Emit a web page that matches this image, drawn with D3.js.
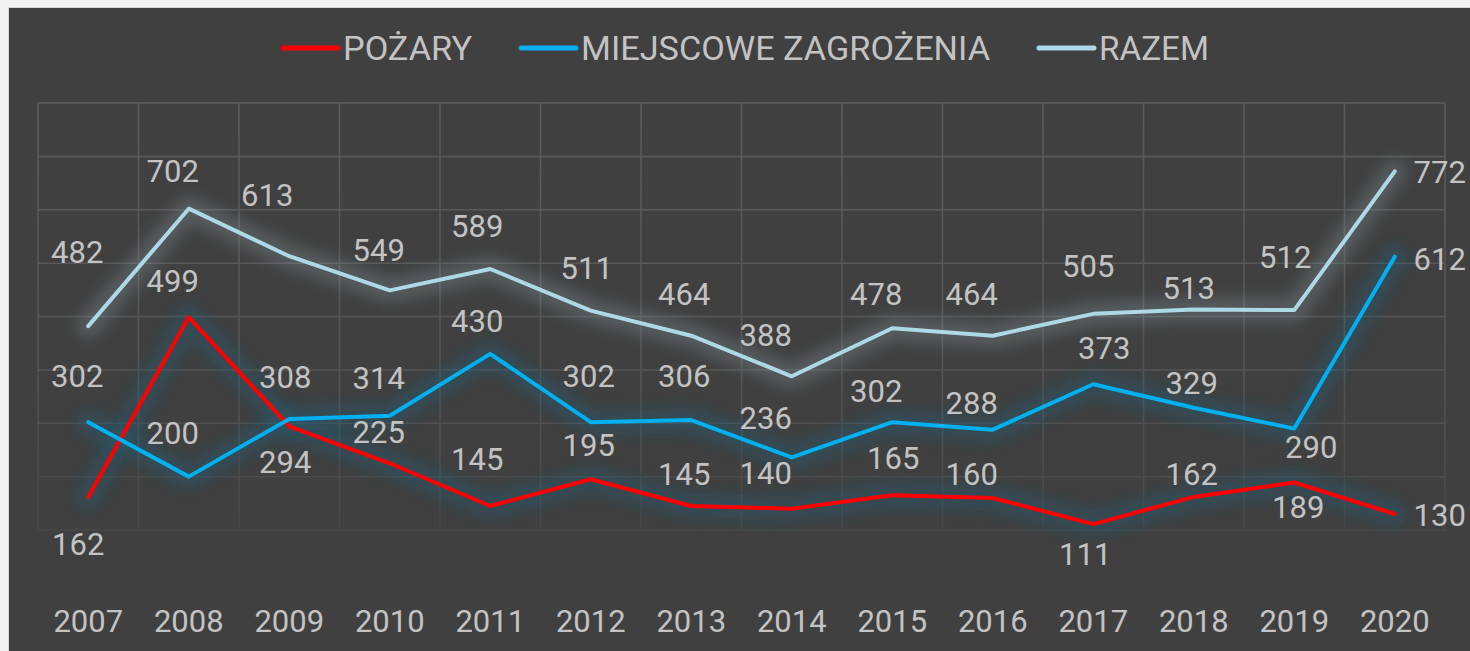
<!DOCTYPE html>
<html>
<head>
<meta charset="utf-8">
<script src="https://cdn.jsdelivr.net/npm/d3@7"></script>
<style>
  html, body { margin: 0; padding: 0; background: #f2f2f2; }
  svg { display: block; }
  text { font-family: Roboto, "Noto Sans", sans-serif; fill: #c3c3c3; }
</style>
</head>
<body>
<svg></svg>
<script>
const years = ['2007','2008','2009','2010','2011','2012','2013','2014','2015','2016','2017','2018','2019','2020'];
const pozary = [162, 499, 294, 225, 145, 195, 145, 140, 165, 160, 111, 162, 189, 130];
const miejscowe = [302, 200, 308, 314, 430, 302, 306, 236, 302, 288, 373, 329, 290, 612];
const razem = [482, 702, 613, 549, 589, 511, 464, 388, 478, 464, 505, 513, 512, 772];
const seriesNames = ['POŻARY', 'MIEJSCOWE ZAGROŻENIA', 'RAZEM'];
const yTicks = [100, 200, 300, 400, 500, 600, 700, 800, 900];

// label nudges (dx, dy) from each point, the labels were moved by hand in the original
const nudgePozary = [[-10,58],[-16,-25],[-4,47],[-11,-20],[-13,-36],[-2,-23],[-7,-21],[-26,-25],[1,-26],[-21,-13],[-8,41],[-2,-12],[4,36],[45,12]];
const nudgeMiejscowe = [[-11,-35],[-16,-33],[-4,-31],[-11,-27],[-13,-22],[-2,-35],[-7,-33],[-26,-28],[-16,-20],[-21,-16],[11,-25],[-2,-14],[17,29],[45,13]];
const nudgeRazem = [[-11,-63],[-16,-27],[-22,-50],[-11,-29],[-13,-32],[-4,-32],[-7,-31],[-26,-30],[-16,-23],[-21,-31],[-5,-37],[-5,-11],[-9,-42],[45,12]];

const W = 1470, H = 651;
const plot = {left: 38, right: 1445, top: 103, bottom: 530};

const series = [
  {name: seriesNames[0], values: pozary, nudge: nudgePozary, color: '#ff0000', glow: '#1f5f78', glowOp: 0.38},
  {name: seriesNames[1], values: miejscowe, nudge: nudgeMiejscowe, color: '#00b0f0', glow: '#1f5f78', glowOp: 0.38},
  {name: seriesNames[2], values: razem, nudge: nudgeRazem, color: '#add8e6', glow: '#8fa5b0', glowOp: 0.27}
];

const svg = d3.select('svg').attr('width', W).attr('height', H);

const defs = svg.append('defs');
defs.append('filter').attr('id', 'blur')
  .attr('x', '-20%').attr('y', '-50%').attr('width', '140%').attr('height', '200%')
  .append('feGaussianBlur').attr('stdDeviation', 7);

const grad = defs.append('linearGradient').attr('id', 'gridFade')
  .attr('gradientUnits', 'userSpaceOnUse')
  .attr('x1', 0).attr('x2', 0).attr('y1', plot.top).attr('y2', plot.bottom);
grad.append('stop').attr('offset', '0%').attr('stop-color', '#5c5c5c');
grad.append('stop').attr('offset', '65%').attr('stop-color', '#555555');
grad.append('stop').attr('offset', '100%').attr('stop-color', '#474747');

// chart frame
svg.append('rect').attr('x', 8.5).attr('y', 7.5).attr('width', W).attr('height', H)
  .attr('fill', '#404040').attr('stroke', '#d6d6d6').attr('stroke-width', 1);

const x = d3.scaleBand().domain(years).range([plot.left, plot.right]).padding(0);
const y = d3.scaleLinear().domain([100, 900]).range([plot.bottom, plot.top]);
const cx = d => x(d) + x.bandwidth() / 2;

// grid
const grid = svg.append('g').attr('stroke', 'url(#gridFade)').attr('stroke-width', 1.5);
grid.selectAll('line.h').data(yTicks).enter().append('line')
  .attr('x1', plot.left).attr('x2', plot.right)
  .attr('y1', d => y(d)).attr('y2', d => y(d));
grid.selectAll('line.v').data(years.concat(['end'])).enter().append('line')
  .attr('x1', (d, i) => i < years.length ? x(d) : plot.right)
  .attr('x2', (d, i) => i < years.length ? x(d) : plot.right)
  .attr('y1', plot.top).attr('y2', plot.bottom);

// x axis labels
svg.append('g').selectAll('text').data(years).enter().append('text')
  .attr('x', d => cx(d)).attr('y', 632)
  .attr('text-anchor', 'middle').style('font-size', '31px')
  .text(d => d);

const line = d3.line().x((d, i) => cx(years[i])).y(d => y(d));

// glows first, then lines
const glows = svg.append('g');
series.forEach(s => {
  glows.append('path').datum(s.values).attr('d', line)
    .attr('fill', 'none').attr('stroke', s.glow).attr('stroke-opacity', s.glowOp)
    .attr('stroke-width', 24).attr('stroke-linejoin', 'round').attr('stroke-linecap', 'round')
    .attr('filter', 'url(#blur)');
});
const lines = svg.append('g');
series.forEach(s => {
  lines.append('path').datum(s.values).attr('d', line)
    .attr('fill', 'none').attr('stroke', s.color)
    .attr('stroke-width', 4).attr('stroke-linejoin', 'round').attr('stroke-linecap', 'round');
});

// data labels
const labels = svg.append('g');
series.forEach(s => {
  labels.selectAll(null).data(s.values).enter().append('text')
    .attr('x', (d, i) => cx(years[i]) + s.nudge[i][0])
    .attr('y', (d, i) => y(d) + s.nudge[i][1])
    .attr('text-anchor', 'middle').style('font-size', '31px')
    .text(d => d);
});

// legend
const legendWidths = [129, 409, 110];
const legend = svg.append('g');
var lx = 283;
series.forEach((s, i) => {
  legend.append('line').attr('x1', lx).attr('x2', lx + 55).attr('y1', 48).attr('y2', 48)
    .attr('stroke', s.color).attr('stroke-width', 5).attr('stroke-linecap', 'round');
  legend.append('text').attr('x', lx + 60).attr('y', 59.5)
    .style('font-size', '32.5px')
    .attr('textLength', legendWidths[i]).attr('lengthAdjust', 'spacingAndGlyphs')
    .text(s.name);
  lx += 60 + legendWidths[i] + 49;
});
</script>
</body>
</html>
